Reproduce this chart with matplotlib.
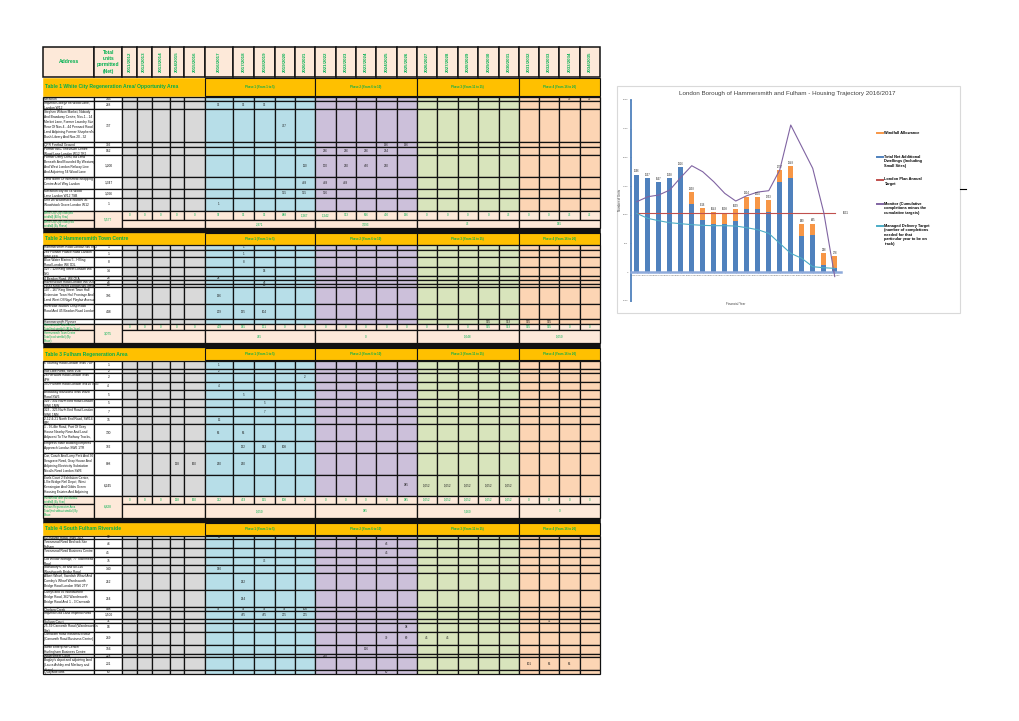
import matplotlib.pyplot as plt
from matplotlib.patches import Rectangle

plt.rcParams['font.family'] = ['Liberation Sans', 'DejaVu Sans']

# ---------------- data ----------------
YEARS = ["2011/2012", "2012/2013", "2013/2014", "2014/2015", "2015/2016",
         "2016/2017", "2017/2018", "2018/2019", "2019/2020", "2020/2021",
         "2021/2022", "2022/2023", "2023/2024", "2024/2025", "2025/2026",
         "2026/2027", "2027/2028", "2028/2029", "2029/2030", "2030/2031",
         "2031/2032", "2032/2033", "2033/2034", "2034/2035"]
PHASES = ["Phase 1 (Years 1 to 5)", "Phase 2 (Years 6 to 10)",
          "Phase 3 (Years 11 to 15)", "Phase 4 (Years 16 to 20)"]

T1_TITLE = "Table 1 White City Regeneration Area/ Opportunity Area"
T1_ADDRESSES = [
    "Marathon",
    "Imperial College 88 Wood Lane,\nLondon W12",
    "Stephen Wilson Market, Nobody\nAnd Broadway Centre, Nos.1 - 14\nMarket Lane, Former Laundry Site\n"
    "Rear Of Nos.4 - 44 Pennard Road\nLand Adjoining Former Shepherd's\nBush Library And Nos.20 - 32",
    "QPR Football Ground",
    "Former BBC Television Centre\nWood Lane London W12 7RJ",
    "Former Dairy Crest, Ba Land\nBeneath And Bounded By Westway\nAnd West London Railway Line\nAnd Adjoining 54 Wood Lane",
    "Land North Of Westfield Shopping\nCentre Ariel Way London",
    "Marathon city 8b 54 Wood\nLane London W12 7SB",
    "Unit 2B Woodstock Studios 36\nWoodstock Grove London W12",
]
T1_TOTALS = ["145", "288", "737", "392", "942", "1,200", "1,347", "1,066", "1"]
T1_VALUES = [
    {"2033/2034": 73, "2034/2035": 72},
    {"2016/2017": 96, "2017/2018": 96, "2018/2019": 96},
    {"2019/2020": 737},
    {"2024/2025": 196, "2025/2026": 196},
    {"2021/2022": 236, "2022/2023": 236, "2023/2024": 236, "2024/2025": 234},
    {"2020/2021": 110, "2021/2022": 170, "2022/2023": 230, "2023/2024": 460, "2024/2025": 230},
    {"2020/2021": 449, "2021/2022": 449, "2022/2023": 449},
    {"2019/2020": 355, "2020/2021": 355, "2021/2022": 356},
    {"2016/2017": 1},
]
T1_TOTAL_LABELS = ["White City Opp Total (incl\nwindfall) (All by Year)",
                   "White City Opp Total (excl\nwindfall) (By Phase)"]
T1_YEAR_TOTALS = [0, 0, 0, 0, 0, 97, 96, 96, 848, 1267, 1242, 913, 696, 430, 196,
                  0, 0, 0, 0, 73, 0, 0, 73, 72]
T1_PHASE_TOTALS = ["2,371", "3,093", "73", "145"]
T1_GRAND_TOTAL = "5,577"

T2_TITLE = "Table 2 Hammersmith Town Centre"
T2_ADDRESSES = [
    "Hammersmith Road London W6 8NJ",
    "289 Fulham Palace Road London\nSW6 6ES",
    "Blue Water Marina 5 - Hilling\nRoad London W6 9DL",
    "127 - 129 King Street London W6\n9JG",
    "4 Beadon Road, W6 0EA",
    "Ravenscourt Road London W6 0UG",
    "79-83 King Street London W6 9HW",
    "107 - 167 King Street Town Hall\nExtension Town Hall Frontage And\nLand West Of Nigel Playfair Avenue",
    "Riverside Studios Crisp Road\nRoad And 45 Beadon Road London",
    "Hammersmith Flyover",
]
T2_TOTALS = ["1", "1", "8", "14", "24", "24", "24", "196", "448", ""]
T2_VALUES = [
    {"2017/2018": 1},
    {"2017/2018": 1},
    {"2017/2018": 8},
    {"2018/2019": 14},
    {"2016/2017": 24},
    {"2018/2019": 24},
    {"2018/2019": 24},
    {"2016/2017": 196},
    {"2016/2017": 209, "2017/2018": 135, "2018/2019": 104},
    {"2029/2030": 525, "2030/2031": 523, "2031/2032": 525, "2032/2033": 525},
]
T2_TOTAL_LABELS = ["Hammersmith Town Centre\nTotal (incl windfall) (All by Year)",
                   "Hammersmith Town Centre\nTotal (excl windfall) (By\nPhase)"]
T2_YEAR_TOTALS = [0, 0, 0, 0, 0, 429, 145, 171, 0, 0, 0, 0, 0, 0, 0,
                  0, 0, 0, 525, 523, 525, 525, 0, 0]
T2_PHASE_TOTALS = ["745", "0", "1,048", "1,050"]
T2_GRAND_TOTAL = "3,075"

T3_TITLE = "Table 3 Fulham Regeneration Area"
T3_ADDRESSES = [
    "6 Tournay Road London SW6 7UF",
    "99b Lillie Road, SW6 1UE",
    "28 Harwood Road London SW6\n4PH",
    "350 Fulham Road London SW10 9UG",
    "Broadway Mansions SW6 Ward\nRoad SW6",
    "329 - 331 North End Road London\nSW6 1NW",
    "323 - 325 North End Road London\nSW6 1NN",
    "2-12 & 21 North End Road, SW14\n8JR",
    "1 - 9 Lillie Road, Part Of Gray\nHouse Nearby Rose And Land\nAdjacent To The Railway Tracks,",
    "Empress State Building Empress\nApproach London SW6 1TR",
    "Car, Coach And Lorry Park And 30\nSeagrave Road, Gray House And\nAdjoining Electricity Substation\nNicolls Road London SW6",
    "Earls Court 2 Exhibition Centre,\nLillie Bridge Rail Depot, West\nKensington And Gibbs Green\nHousing Estates And Adjoining",
]
T3_TOTALS = ["1", "2", "2", "4", "5", "5", "7", "15", "130", "382", "808", "6,245"]
T3_VALUES = [
    {"2016/2017": 1},
    {"2016/2017": 2},
    {"2020/2021": 2},
    {"2016/2017": 4},
    {"2017/2018": 5},
    {"2018/2019": 5},
    {"2018/2019": 7},
    {"2016/2017": 15},
    {"2016/2017": 65, "2017/2018": 65},
    {"2017/2018": 132, "2018/2019": 142, "2019/2020": 108},
    {"2014/2015": 128, "2015/2016": 160, "2016/2017": 260, "2017/2018": 260},
    {"2025/2026": 985, "2026/2027": 1052, "2027/2028": 1052, "2028/2029": 1052,
     "2029/2030": 1052, "2030/2031": 1052},
]
T3_TOTAL_LABELS = ["Fulham RA Total (incl without\nwindfall) (By Year)",
                   "Fulham Regeneration Area\nTotal (incl without windfall) By\nPhase"]
T3_YEAR_TOTALS = [0, 0, 0, 128, 160, 332, 453, 155, 108, 2, 0, 0, 0, 0, 985,
                  1052, 1052, 1052, 1052, 1052, 0, 0, 0, 0]
T3_PHASE_TOTALS = ["1,050", "985", "5,260", "0"]
T3_GRAND_TOTAL = "6,828"

T4_TITLE = "Table 4 South Fulham Riverside"
T4_ADDRESSES = [
    "60 Sulivan Road, SW6 3DX",
    "Townmead Road Bedrock Site\nFulham",
    "Townmead Road Business Centre",
    "Old Willow Storage, 77 Townmead\nRoad",
    "Sainsbury's, 38 and 40-116\nWandsworth Bridge Road",
    "Albert Wharf, Swedish Wharf And\nComley's Wharf Wandsworth\nBridge Road London SW6 2TY",
    "Currys and 92 Wandsworth\nBridge Road, 362 Wandsworth\nBridge Road And 1 - 3 Carnwath",
    "Chelsea Creek",
    "Imperial Gas Land Imperial Road",
    "Sulivan Court",
    "25-59 Carnwath Road (Wandsworth's\nSite)",
    "Carnwath Road Industrial Estate\n(Carnwath Road Business Centre)",
    "Swan Enterprise Centre/\nHurlingham Business Centre",
    "Watersmeet Court",
    "Bagley's depot and adjoining land\n(Laura Ashley and Marbury and\nothers)",
    "Quayside lofts",
]
T4_TOTALS = ["12", "46", "45", "75", "140", "252", "254", "488", "1,500", "71", "94",
             "249", "156", "228", "231", "60"]
T4_VALUES = [
    {"2016/2017": 12},
    {"2024/2025": 46},
    {"2024/2025": 45},
    {"2018/2019": 75},
    {"2016/2017": 140},
    {"2017/2018": 252},
    {"2017/2018": 254},
    {"2016/2017": 97, "2017/2018": 97, "2018/2019": 97, "2019/2020": 97, "2020/2021": 100},
    {"2017/2018": 475, "2018/2019": 475, "2019/2020": 275, "2020/2021": 275},
    {"2032/2033": 71},
    {"2025/2026": 94},
    {"2024/2025": 79, "2025/2026": 80, "2026/2027": 45, "2027/2028": 45},
    {"2023/2024": 156},
    {"2021/2022": 228},
    {"2031/2032": 101, "2032/2033": 65, "2033/2034": 65},
    {"2024/2025": 60},
]

# housing trajectory chart
CHART_TITLE = "London Borough of Hammersmith and Fulham - Housing Trajectory 2016/2017"
CHART_YEARS = YEARS[5:]
COMPLETIONS = [1696, 1637, 1567, 1638, 1826, 1186, 909, 836, 831, 892,
               1107, 1093, 1046, 1570, 1641, 623, 638, 121, 71]
WINDFALL = [0, 0, 0, 0, 0, 207, 207, 207, 207, 207,
            207, 207, 207, 207, 207, 207, 207, 207, 207]
LONDON_PLAN_TARGET = 1031
MONITOR = [1226, 1313, 1343, 1430, 1650, 1854, 1749, 1575, 1372, 1238,
           1331, 1395, 1418, 1780, 2564, 2186, 1808, 1040, -80]
MANAGED_DELIVERY = [1023, 936, 895, 860, 843, 826, 814, 808, 808, 802,
                    773, 738, 675, 500, 326, 239, 93, 75, 64]
LEGEND_LABELS = [
    "Windfall Allowance",
    "Total Net Additional\nDwellings (Including\nSmall Sites)",
    "London Plan Annual\nTarget",
    "Monitor (Cumulative\ncompletions minus the\ncumulative targets)",
    "Managed Delivery Target\n(number of completions\nneeded for that\nparticular year to be on\ntrack)",
]

# ---------------- layout / style ----------------
ADDR_X = (43.3, 94.3)
TOTAL_X = (94.3, 122.3)
COL_EDGES = [122.3, 136.7, 151.7, 169.7, 184, 204.7, 233.3, 254, 274.7, 294.7,
             315, 335.7, 356, 376.3, 396.7, 416.7, 437, 457.7, 478, 498.7,
             518.7, 539, 559.3, 579.7, 600]
GROUPS = [(0, 5), (5, 10), (10, 15), (15, 20), (20, 24)]
GROUP_COLORS = ['#d9d9d9', '#b7dee8', '#ccc0da', '#d8e4bc', '#fcd5b4']
PEACH = '#fde9d9'
BAND = '#ffc000'
GREEN_TXT = '#00b050'

T1_LAYOUT = dict(band=(77.7, 96.2),
                 rows=[96.7, 100.7, 109.3, 142.3, 146.7, 155, 176.7, 189, 197.7, 210.7],
                 incl=(210.7, 220), excl=(220, 228.3), black=(228.3, 232.7))
T2_LAYOUT = dict(band=(232.7, 245),
                 rows=[245, 250, 257.3, 266.7, 276, 279.7, 283.5, 287.3, 304, 319.3, 324],
                 incl=(324, 330), excl=(330, 343.3), black=(343.3, 348.3))
T3_LAYOUT = dict(band=(348.3, 360.3),
                 rows=[360.7, 368.5, 372.7, 381.7, 390, 399, 407.3, 416, 424.3, 441,
                       453.3, 475, 495.7],
                 incl=(495.7, 504.3), excl=(504.3, 518.3), black=(518.3, 522.7))
T4_LAYOUT = dict(band=(522.7, 535.2),
                 rows=[535.7, 539.3, 548.3, 556.7, 565, 573.3, 590, 607.3, 610.7, 619.3,
                       623.3, 631.7, 645, 654, 657.3, 670, 674.3])

fig = plt.figure(figsize=(10.2, 7.21), dpi=100)
page = fig.add_axes([0, 0, 1, 1])
page.set_xlim(0, 1020)
page.set_ylim(721, 0)
page.axis('off')


def box(x0, x1, y0, y1, fc, lw=0.6, ec='#111111'):
    r = Rectangle((x0, y0), x1 - x0, y1 - y0, facecolor=fc, edgecolor=ec, linewidth=lw)
    page.add_patch(r)
    return r


def col_color(c):
    for (a, b), colr in zip(GROUPS, GROUP_COLORS):
        if a <= c < b:
            return colr


def col_mid(c):
    return (COL_EDGES[c] + COL_EDGES[c + 1]) / 2


def fmt(v):
    return f"{v:,}"


# header row
box(*ADDR_X, 46.7, 76.7, PEACH, lw=1.1)
page.text(sum(ADDR_X) / 2, 61.7, "Address", ha='center', va='center',
          fontsize=3.6, fontweight='bold', color=GREEN_TXT)
box(*TOTAL_X, 46.7, 76.7, PEACH, lw=1.1)
page.text(sum(TOTAL_X) / 2, 61.7, "Total\nunits\npermitted\n(Net)", ha='center', va='center',
          fontsize=3.5, fontweight='bold', color=GREEN_TXT, linespacing=1.3)
for c, yr in enumerate(YEARS):
    box(COL_EDGES[c], COL_EDGES[c + 1], 46.7, 76.7, PEACH, lw=1.1)
    page.text(col_mid(c), 61.7, yr, rotation=90, ha='center', va='center',
              fontsize=3.2, fontweight='bold', color=GREEN_TXT)


def draw_table(layout, title, addresses, totals, values,
               total_labels=None, year_totals=None, phase_totals=None, grand_total=None):
    b0, b1 = layout['band']
    bm = (b0 + b1) / 2
    box(ADDR_X[0], COL_EDGES[5], b0, b1, BAND, lw=0.4, ec=BAND)
    page.text(ADDR_X[0] + 1.5, bm, title, ha='left', va='center',
              fontsize=3.6, fontweight='bold', color=GREEN_TXT)
    for (a, b), name in zip(GROUPS[1:], PHASES):
        box(COL_EDGES[a], COL_EDGES[b], b0, b1, BAND, lw=0.8)
        page.text((COL_EDGES[a] + COL_EDGES[b]) / 2, bm, name, ha='center', va='center',
                  fontsize=2.1, fontweight='bold', color=GREEN_TXT)

    edges = layout['rows']
    for i, (addr, tot, vals) in enumerate(zip(addresses, totals, values)):
        y0, y1 = edges[i], edges[i + 1]
        ym = (y0 + y1) / 2
        clip = box(*ADDR_X, y0, y1, 'white', lw=0.9)
        t = page.text(ADDR_X[0] + 0.8, y0 + 0.3, addr, ha='left', va='top',
                      fontsize=2.3, linespacing=1.35, color='#111111')
        t.set_clip_path(clip)
        box(*TOTAL_X, y0, y1, 'white', lw=0.9)
        page.text(sum(TOTAL_X) / 2, ym, tot, ha='center', va='center',
                  fontsize=2.3, color='#111111')
        for c in range(len(YEARS)):
            box(COL_EDGES[c], COL_EDGES[c + 1], y0, y1, col_color(c), lw=0.9)
        for yr, v in vals.items():
            page.text(col_mid(YEARS.index(yr)), ym, fmt(v), ha='center', va='center',
                      fontsize=2.2, color='#222222')

    if year_totals is None:
        return
    i0, i1 = layout['incl']
    e0, e1 = layout['excl']
    for (y0, y1), lab in zip((layout['incl'], layout['excl']), total_labels):
        clip = box(*ADDR_X, y0, y1, PEACH, lw=0.9)
        t = page.text(ADDR_X[0] + 0.8, (y0 + y1) / 2, lab, ha='left', va='center',
                      fontsize=1.9, linespacing=1.0, color=GREEN_TXT)
        t.set_clip_path(clip)
    box(*TOTAL_X, i0, e1, PEACH, lw=0.9)
    page.text(sum(TOTAL_X) / 2, (i0 + e1) / 2, grand_total, ha='center', va='center',
              fontsize=2.3, color=GREEN_TXT)
    for c, v in enumerate(year_totals):
        box(COL_EDGES[c], COL_EDGES[c + 1], i0, i1, PEACH, lw=0.9)
        page.text(col_mid(c), (i0 + i1) / 2, fmt(v), ha='center', va='center',
                  fontsize=2.2, color=GREEN_TXT)
    box(COL_EDGES[0], COL_EDGES[5], e0, e1, PEACH, lw=0.9)
    for (a, b), v in zip(GROUPS[1:], phase_totals):
        box(COL_EDGES[a], COL_EDGES[b], e0, e1, PEACH, lw=0.9)
        page.text((COL_EDGES[a] + COL_EDGES[b]) / 2, (e0 + e1) / 2, v, ha='center',
                  va='center', fontsize=2.2, color=GREEN_TXT)
    k0, k1 = layout['black']
    box(ADDR_X[0], COL_EDGES[-1], k0, k1, '#111111', lw=0.4)


draw_table(T1_LAYOUT, T1_TITLE, T1_ADDRESSES, T1_TOTALS, T1_VALUES,
           T1_TOTAL_LABELS, T1_YEAR_TOTALS, T1_PHASE_TOTALS, T1_GRAND_TOTAL)
draw_table(T2_LAYOUT, T2_TITLE, T2_ADDRESSES, T2_TOTALS, T2_VALUES,
           T2_TOTAL_LABELS, T2_YEAR_TOTALS, T2_PHASE_TOTALS, T2_GRAND_TOTAL)
draw_table(T3_LAYOUT, T3_TITLE, T3_ADDRESSES, T3_TOTALS, T3_VALUES,
           T3_TOTAL_LABELS, T3_YEAR_TOTALS, T3_PHASE_TOTALS, T3_GRAND_TOTAL)
draw_table(T4_LAYOUT, T4_TITLE, T4_ADDRESSES, T4_TOTALS, T4_VALUES)

# ---------------- embedded chart ----------------
COLORS = dict(windfall='#f79646', total='#4f81bd', plan='#c0504d',
              monitor='#8064a2', managed='#4bacc6')

box(617, 960, 86, 313, 'white', lw=0.8, ec='#d9d9d9')
page.plot([960, 966], [189, 189], color='black', lw=0.8)
page.text(787, 93, CHART_TITLE, ha='center', va='center', fontsize=4.5, color='#404040')

ax = fig.add_axes([630.7 / 1020, (721 - 300.7) / 721, 210.3 / 1020, 200.7 / 721])
ax.set_facecolor('none')
x = list(range(len(CHART_YEARS)))
ax.bar(x, COMPLETIONS, width=0.42, color=COLORS['total'], zorder=2)
ax.bar(x, WINDFALL, bottom=COMPLETIONS, width=0.42, color=COLORS['windfall'], zorder=2)
ax.plot(x, [LONDON_PLAN_TARGET] * len(x), color=COLORS['plan'], lw=0.8, zorder=3)
ax.plot(x, MONITOR, color=COLORS['monitor'], lw=0.8, zorder=3)
ax.plot(x, MANAGED_DELIVERY, color=COLORS['managed'], lw=0.8, zorder=3)
for xi, c, w in zip(x, COMPLETIONS, WINDFALL):
    ax.text(xi, c + w + 25, str(c + w), ha='center', va='bottom', fontsize=1.9, color='#262626')
ax.text(18.75, LONDON_PLAN_TARGET, str(LONDON_PLAN_TARGET), ha='left', va='center',
        fontsize=1.9, color='#262626', clip_on=False)

ax.set_xlim(-0.55, 18.57)
ax.set_ylim(-500, 3000)
ax.set_yticks(range(-500, 3001, 500))
ax.set_xticks(x)
ax.set_xticklabels(CHART_YEARS, rotation=90)
ax.tick_params(labelsize=1.7, length=1, width=0.4, colors='#595959', pad=1)
for s in ('top', 'right'):
    ax.spines[s].set_visible(False)
ax.spines['left'].set_color(COLORS['total'])
ax.spines['left'].set_linewidth(1.3)
ax.spines['bottom'].set_position(('data', 0))
ax.spines['bottom'].set_color('#8eaadb')
ax.spines['bottom'].set_linewidth(1.8)
ax.text(-0.05, 0.5, "Number of Units", transform=ax.transAxes, rotation=90,
        ha='center', va='center', fontsize=2.2, color='#404040')
ax.text(0.5, -0.005, "Financial Year", transform=ax.transAxes,
        ha='center', va='top', fontsize=2.2, color='#404040')

# legend on the right of the chart
legend_y = [132.7, 156.5, 179.5, 203.5, 225.5]
legend_keys = ['windfall', 'total', 'plan', 'monitor', 'managed']
for y, key, lab in zip(legend_y, legend_keys, LEGEND_LABELS):
    page.plot([877.5, 883.5], [y, y], color=COLORS[key], lw=1.4)
    page.text(884.5, y - 2.0, lab, ha='left', va='top', fontsize=2.8,
              fontweight='bold', linespacing=1.2, color='black')

fig.savefig('out.png', dpi=100)
